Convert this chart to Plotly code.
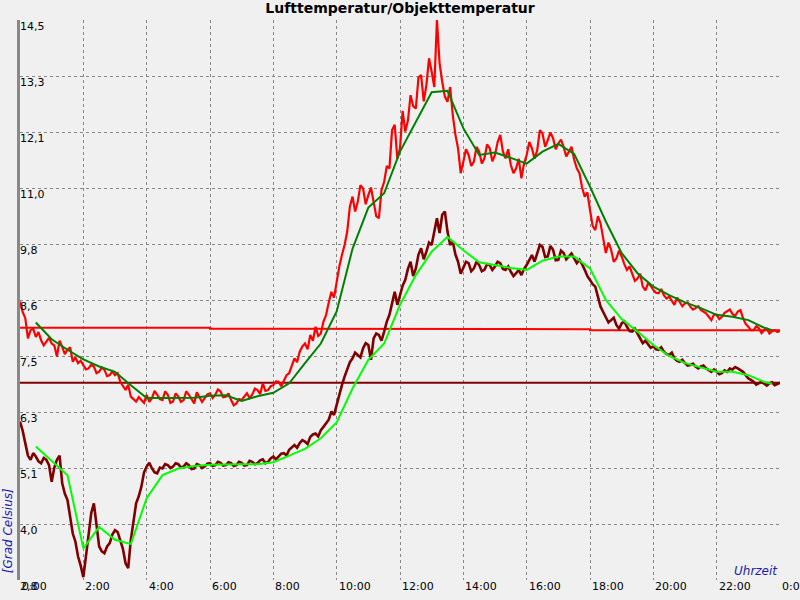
import plotly.graph_objects as go

# ---- data -------------------------------------------------------------
# raw samples every 10 minutes (hours 0..24) ...
raw_hours = [i / 6 for i in range(145)]

air_raw = [
    8.62, 8.27, 8.02, 7.88, 7.81, 7.78, 7.74, 7.47, 7.67, 7.61, 7.36, 7.33,   # 0-2h
    7.29, 7.22, 7.26, 7.15, 7.19, 7.08, 7.08, 6.94, 6.77, 6.63, 6.53, 6.56,   # 2-4h
    6.67, 6.60, 6.67, 6.56, 6.67, 6.53, 6.63, 6.56, 6.67, 6.49, 6.63, 6.60,   # 4-6h
    6.70, 6.67, 6.74, 6.63, 6.56, 6.49, 6.56, 6.70, 6.67, 6.77, 6.91, 6.77,   # 6-8h
    6.87, 6.94, 6.98, 7.12, 7.43, 7.57, 7.74, 7.92, 8.09, 7.95, 8.34, 8.82,   # 8-10h
    9.03, 9.59, 10.08, 10.81, 10.70, 10.98, 10.84, 10.70, 10.36, 11.12, 11.40, 12.31,  # 10-12h
    11.82, 12.17, 12.93, 12.65, 13.35, 13.14, 13.42, 14.50, 13.21, 12.79, 12.51, 11.82,  # 12-14h
    11.54, 11.68, 11.54, 11.75, 11.61, 11.82, 11.68, 12.10, 11.61, 11.47, 11.40, 11.19,  # 14-16h
    11.68, 11.82, 11.78, 12.13, 11.99, 12.03, 11.92, 11.85, 11.75, 11.58, 11.30, 10.81,  # 16-18h
    10.53, 10.11, 10.25, 9.63, 9.70, 9.52, 9.56, 9.28, 9.21, 9.10, 8.93, 9.00,   # 18-20h
    8.86, 8.79, 8.75, 8.72, 8.55, 8.62, 8.58, 8.51, 8.48, 8.44, 8.37, 8.23,   # 20-22h
    8.34, 8.30, 8.41, 8.36, 8.41, 8.27, 8.09, 8.02, 8.06, 8.02, 7.95, 8.02,   # 22-24h
    8.01,
]

obj_raw = [
    6.11, 5.66, 5.31, 5.38, 5.24, 5.31, 4.85, 5.31, 4.82, 4.47, 3.77, 3.29,   # 0-2h
    2.86, 3.77, 4.40, 3.50, 3.36, 3.57, 3.84, 3.64, 3.15, 3.64, 4.40, 4.75,   # 2-4h
    5.17, 5.13, 5.03, 5.13, 5.20, 5.17, 5.22, 5.17, 5.20, 5.13, 5.20, 5.17,   # 4-6h
    5.24, 5.20, 5.25, 5.20, 5.24, 5.20, 5.25, 5.20, 5.27, 5.24, 5.32, 5.27,   # 6-8h
    5.38, 5.39, 5.45, 5.52, 5.62, 5.66, 5.69, 5.79, 5.86, 5.93, 6.07, 6.32,   # 8-10h
    6.46, 6.87, 7.22, 7.43, 7.50, 7.64, 7.71, 7.85, 7.92, 7.99, 8.34, 8.82,   # 10-12h
    8.75, 9.07, 9.45, 9.31, 9.73, 9.66, 9.80, 10.36, 10.43, 10.08, 9.87, 9.45,  # 12-14h
    9.31, 9.42, 9.31, 9.38, 9.28, 9.38, 9.35, 9.42, 9.28, 9.24, 9.21, 9.17,   # 14-16h
    9.38, 9.59, 9.63, 9.76, 9.56, 9.70, 9.49, 9.63, 9.56, 9.52, 9.49, 9.28,   # 16-18h
    9.07, 8.93, 8.51, 8.30, 8.23, 8.13, 8.16, 8.09, 7.99, 7.95, 7.75, 7.71,   # 18-20h
    7.68, 7.61, 7.57, 7.50, 7.43, 7.36, 7.33, 7.29, 7.26, 7.26, 7.22, 7.15,   # 20-22h
    7.15, 7.12, 7.15, 7.20, 7.22, 7.15, 7.01, 6.94, 6.91, 6.90, 6.91, 6.87,   # 22-24h
    6.92,
]

# ... and the in-between samples (0:05, 0:15, ... 23:55)
mid_hours = [i / 6 + 1 / 12 for i in range(144)]

air_raw_mid = [
    8.40, 7.85, 8.05, 7.98, 7.70, 7.86, 7.70, 7.80, 7.52, 7.66, 7.45, 7.38,
    7.20, 7.30, 7.12, 7.24, 7.06, 7.16, 7.12, 6.85, 6.88, 6.58, 6.62, 6.50,
    6.52, 6.75, 6.58, 6.74, 6.50, 6.70, 6.52, 6.74, 6.58, 6.72, 6.52, 6.68,
    6.60, 6.78, 6.62, 6.70, 6.45, 6.58, 6.64, 6.60, 6.80, 6.68, 6.75, 6.85,
    6.95, 6.85, 7.08, 7.30, 7.35, 7.68, 7.62, 7.80, 7.90, 8.20, 8.60, 8.70,
    9.35, 9.80, 10.60, 10.50, 11.05, 10.65, 11.00, 10.40, 10.95, 11.45, 12.20, 11.60,
    12.60, 12.40, 12.70, 13.30, 12.80, 13.70, 13.10, 13.60, 12.90, 13.10, 12.10, 11.30,
    11.80, 11.45, 11.85, 11.50, 11.90, 11.55, 11.95, 11.75, 11.80, 11.30, 11.60, 11.50,
    11.95, 11.60, 12.20, 11.85, 12.15, 11.80, 12.00, 11.65, 11.85, 11.40, 11.00, 10.90,
    10.20, 10.40, 9.90, 9.85, 9.45, 9.68, 9.40, 9.35, 9.05, 9.20, 8.85, 8.95,
    8.80, 8.88, 8.68, 8.62, 8.70, 8.52, 8.60, 8.45, 8.52, 8.40, 8.30, 8.35,
    8.25, 8.38, 8.45, 8.32, 8.44, 8.15, 8.02, 8.10, 7.96, 8.05, 8.00, 7.98,
]

obj_raw_mid = [
    5.92, 5.40, 5.45, 5.28, 5.35, 5.20, 5.15, 5.40, 4.60, 4.10, 3.60, 3.10,
    3.30, 4.20, 4.00, 3.40, 3.50, 3.75, 3.80, 3.45, 3.05, 4.05, 4.55, 5.05,
    5.25, 5.05, 5.15, 5.22, 5.14, 5.24, 5.15, 5.24, 5.12, 5.22, 5.14, 5.23,
    5.18, 5.27, 5.19, 5.26, 5.18, 5.27, 5.19, 5.29, 5.22, 5.30, 5.24, 5.34,
    5.32, 5.44, 5.40, 5.58, 5.56, 5.72, 5.64, 5.84, 5.80, 6.00, 6.15, 6.25,
    6.70, 7.05, 7.35, 7.55, 7.45, 7.75, 7.40, 7.95, 7.80, 8.20, 8.60, 8.55,
    8.95, 9.30, 9.15, 9.60, 9.50, 9.85, 10.10, 10.05, 10.50, 9.80, 9.60, 9.20,
    9.45, 9.25, 9.45, 9.25, 9.40, 9.28, 9.45, 9.30, 9.35, 9.15, 9.28, 9.30,
    9.50, 9.45, 9.80, 9.55, 9.78, 9.48, 9.68, 9.50, 9.62, 9.42, 9.40, 9.15,
    8.98, 8.70, 8.40, 8.18, 8.28, 8.05, 8.20, 8.00, 8.05, 7.85, 7.80, 7.65,
    7.62, 7.66, 7.52, 7.55, 7.38, 7.40, 7.28, 7.32, 7.22, 7.28, 7.18, 7.20,
    7.10, 7.18, 7.22, 7.25, 7.18, 7.08, 6.98, 6.88, 6.94, 6.86, 6.93, 6.89,
]

# smoothed curves, half-hour vertices from 0:30 to 23:30, plus end point
smooth_hours = [0.5 + 0.5 * i for i in range(47)] + [23.75]

air_smooth = [
    8.18, 7.83, 7.61, 7.41, 7.26, 7.15, 6.87, 6.60, 6.60, 6.60, 6.61, 6.65,
    6.66, 6.54, 6.64, 6.71, 6.91, 7.33, 7.74, 8.41, 9.72, 10.58, 10.88, 11.75,
    12.38, 12.99, 13.02, 12.24, 11.68, 11.73, 11.62, 11.50, 11.75, 11.91, 11.70, 11.02,
    10.29, 9.63, 9.21, 8.93, 8.75, 8.60, 8.48, 8.34, 8.30, 8.23, 8.07, 8.02,
]

obj_smooth = [
    5.59, 5.29, 4.99, 3.46, 3.91, 3.64, 3.55, 4.51, 4.99, 5.13, 5.18, 5.21,
    5.22, 5.22, 5.22, 5.26, 5.40, 5.54, 5.76, 6.09, 6.80, 7.40, 7.74, 8.55,
    9.17, 9.66, 9.97, 9.69, 9.44, 9.38, 9.32, 9.28, 9.47, 9.56, 9.56, 9.31,
    8.65, 8.25, 7.99, 7.71, 7.48, 7.33, 7.24, 7.15, 7.15, 7.08, 6.94, 6.90,
]

# reference (mean) lines
air_ref_hours = [0, 6, 6, 12, 12, 18, 18, 24]
air_ref = [8.07, 8.07, 8.05, 8.05, 8.04, 8.04, 8.02, 8.02]
obj_ref_hours = [0, 24]
obj_ref = [6.92, 6.92]

y_ticks = [2.8, 3.97, 5.14, 6.31, 7.48, 8.65, 9.82, 10.99, 12.16, 13.33, 14.5]
y_labels = ["2,8", "4,0", "5,1", "6,3", "7,5", "8,6", "9,8", "11,0", "12,1", "13,3", "14,5"]
x_ticks = [0, 2, 4, 6, 8, 10, 12, 14, 16, 18, 20, 22, 24]
x_labels = ["0:00", "2:00", "4:00", "6:00", "8:00", "10:00", "12:00",
            "14:00", "16:00", "18:00", "20:00", "22:00", "0:00"]


def interleave(main_x, main_y, mid_x, mid_y):
    xs, ys = [], []
    for i in range(len(main_x)):
        xs.append(main_x[i]); ys.append(main_y[i])
        if i < len(mid_x):
            xs.append(mid_x[i]); ys.append(mid_y[i])
    return xs, ys


air_x, air_y = interleave(raw_hours, air_raw, mid_hours, air_raw_mid)
obj_x, obj_y = interleave(raw_hours, obj_raw, mid_hours, obj_raw_mid)

# ---- figure -----------------------------------------------------------
fig = go.Figure()

fig.add_trace(go.Scatter(x=air_ref_hours, y=air_ref, mode="lines",
                         line=dict(color="#ff0000", width=2)))
fig.add_trace(go.Scatter(x=obj_ref_hours, y=obj_ref, mode="lines",
                         line=dict(color="#800000", width=2)))
fig.add_trace(go.Scatter(x=air_x, y=air_y, mode="lines",
                         line=dict(color="#ff0000", width=2.2)))
fig.add_trace(go.Scatter(x=obj_x, y=obj_y, mode="lines",
                         line=dict(color="#800000", width=2.6)))
fig.add_trace(go.Scatter(x=smooth_hours, y=air_smooth, mode="lines",
                         line=dict(color="#008000", width=2)))
fig.add_trace(go.Scatter(x=smooth_hours, y=obj_smooth, mode="lines",
                         line=dict(color="#00ff00", width=2)))

font = "DejaVu Sans, sans-serif"

annotations = []
for v, t in zip(y_ticks, y_labels):
    annotations.append(dict(x=0, y=v, xref="x", yref="y", text=t, showarrow=False,
                            xanchor="left", yanchor="top", xshift=-2, yshift=2,
                            font=dict(family=font, size=11, color="#000000")))
for v, t in zip(x_ticks, x_labels):
    annotations.append(dict(x=v, y=2.8, xref="x", yref="y", text=t, showarrow=False,
                            xanchor="left", yanchor="top", xshift=0, yshift=2,
                            font=dict(family=font, size=11, color="#000000")))
annotations.append(dict(x=24, y=2.8, xref="x", yref="y", text="<i>Uhrzeit</i>",
                        showarrow=False, xanchor="right", yanchor="bottom", yshift=0,
                        font=dict(family=font, size=12, color="#1a1aaa")))
annotations.append(dict(x=-0.0155, y=(580 - 531) / 560, xref="paper", yref="paper",
                        text="<i>[Grad Celsius]</i>", showarrow=False, textangle=-90,
                        xanchor="center", yanchor="middle",
                        font=dict(family=font, size=12, color="#1a1aaa")))

fig.update_layout(
    width=800, height=600,
    margin=dict(l=20, r=20, t=20, b=20),
    paper_bgcolor="#f0f0f0", plot_bgcolor="#f0f0f0",
    showlegend=False,
    title=dict(text="<b>Lufttemperatur/Objekttemperatur</b>", x=0.5, xanchor="center",
               y=1 - 8 / 600, yanchor="middle", yref="container",
               font=dict(family=font, size=14, color="#000000")),
    annotations=annotations,
    xaxis=dict(range=[0, 24], tickvals=x_ticks, showticklabels=False, ticks="",
               showgrid=True, gridcolor="#888888", griddash="dot", gridwidth=1,
               zeroline=False, showline=False, fixedrange=True),
    yaxis=dict(range=[2.8, 14.5], tickvals=y_ticks, showticklabels=False, ticks="",
               showgrid=True, gridcolor="#888888", griddash="dot", gridwidth=1,
               zeroline=False, showline=True, linecolor="#888888", linewidth=3,
               fixedrange=True),
)

fig.write_html("out.html",
               config={"displayModeBar": False, "staticPlot": True},
               post_script="document.body.style.margin='0px';"
                           "document.body.style.overflow='hidden';")
